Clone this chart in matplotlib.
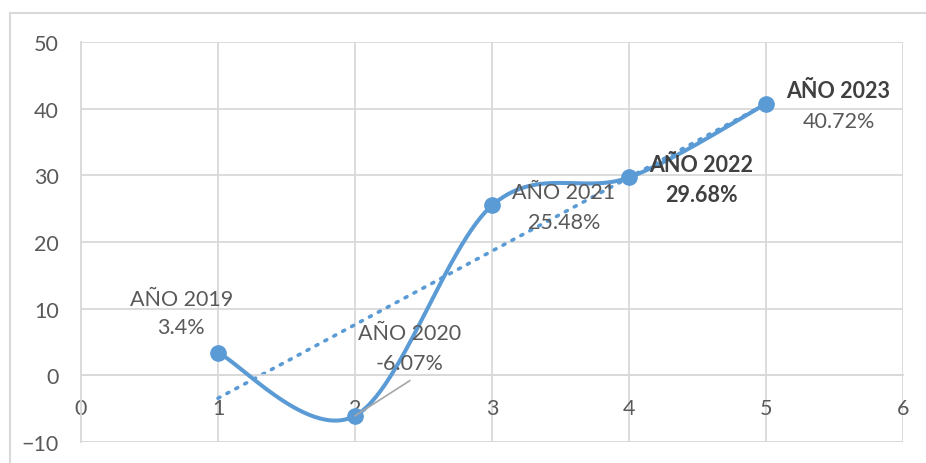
import numpy as np
import matplotlib.pyplot as plt
from matplotlib.lines import Line2D

plt.rcParams['font.family'] = ['Lato', 'DejaVu Sans']

# datos
x_vals = [1, 2, 3, 4, 5]
y_vals = [3.4, -6.07, 25.48, 29.68, 40.72]
years = ["AÑO 2019", "AÑO 2020", "AÑO 2021", "AÑO 2022", "AÑO 2023"]
pct_labels = ["3.4%", "-6.07%", "25.48%", "29.68%", "40.72%"]

x_ticks = [0, 1, 2, 3, 4, 5, 6]
y_ticks = [-10, 0, 10, 20, 30, 40, 50]

line_color = "#5B9BD5"
grid_color = "#D9D9D9"
text_color = "#595959"
bold_color = "#404040"


def smooth_curve(xs, ys, n=60):
    # curva suavizada tipo Excel (Catmull-Rom en Bezier)
    p = np.column_stack([xs, ys]).astype(float)
    p_ext = np.vstack([p[0], p, p[-1]])
    out = []
    t = np.linspace(0, 1, n)[:, None]
    for i in range(1, len(p_ext) - 2):
        p0, p1, p2, p3 = p_ext[i - 1], p_ext[i], p_ext[i + 1], p_ext[i + 2]
        c1 = p1 + (p2 - p0) / 6
        c2 = p2 - (p3 - p1) / 6
        seg = ((1 - t) ** 3) * p1 + 3 * ((1 - t) ** 2) * t * c1 + 3 * (1 - t) * t ** 2 * c2 + t ** 3 * p2
        out.append(seg)
    out = np.vstack(out)
    return out[:, 0], out[:, 1]


fig = plt.figure(figsize=(9.26, 4.64), dpi=100)
ax = fig.add_axes([81 / 926, 1 - 443 / 464, (903 - 81) / 926, (443 - 43) / 464])

ax.set_xlim(0, 6)
ax.set_ylim(-10, 50)
ax.set_xticks(x_ticks)
ax.set_yticks(y_ticks)
ax.grid(True, color=grid_color, linewidth=1.3)
ax.set_axisbelow(True)

for s in ["top", "right"]:
    ax.spines[s].set_visible(False)
ax.spines["left"].set_color(grid_color)
ax.spines["left"].set_linewidth(1.3)
ax.spines["bottom"].set_position(("data", 0))
ax.spines["bottom"].set_color(grid_color)
ax.spines["bottom"].set_linewidth(1.3)

ax.tick_params(axis="both", length=0, labelsize=15.5, labelcolor=text_color)
ax.tick_params(axis="y", pad=16)
ax.tick_params(axis="x", pad=16)

# linea horizontal inferior
ax.axhline(-10, color=grid_color, linewidth=1.3, zorder=0)

# tendencia lineal
coef = np.polyfit(x_vals, y_vals, 1)
xt = np.array([x_vals[0], x_vals[-1]])
ax.plot(xt, np.polyval(coef, xt), color=line_color, linewidth=2.6,
        linestyle=(0, (0.6, 2.2)), dash_capstyle="round", zorder=2)

# serie suavizada
sx, sy = smooth_curve(x_vals, y_vals)
ax.plot(sx, sy, color=line_color, linewidth=2.9, zorder=3, solid_capstyle="round")
ax.plot(x_vals, y_vals, "o", color=line_color, markersize=11, zorder=4)

# linea guia etiqueta 2020
ax.plot([x_vals[1], 2.4], [y_vals[1], -0.8], color="#A6A6A6", linewidth=1.2, zorder=5)

# etiquetas
lab_pos = [(0.733, 11.4, 7.2), (2.40, 6.4, 1.9), (3.525, 27.5, 23.0),
           (4.53, 31.7, 27.2), (5.53, 42.7, 38.2)]
for i, (lx, ly1, ly2) in enumerate(lab_pos):
    bold_year = i >= 3
    bold_pct = i == 3
    ax.text(lx, ly1, years[i], ha="center", va="center", fontsize=15.5,
            color=bold_color if bold_year else text_color,
            fontweight="bold" if bold_year else "normal", zorder=6)
    ax.text(lx, ly2, pct_labels[i], ha="center", va="center", fontsize=15.5,
            color=bold_color if bold_pct else text_color,
            fontweight="bold" if bold_pct else "normal", zorder=6)

# borde del grafico
fig.add_artist(Line2D([10 / 926, 10 / 926], [0, 1 - 14 / 464], color=grid_color, linewidth=1.5))
fig.add_artist(Line2D([10 / 926, 1], [1 - 14 / 464, 1 - 14 / 464], color=grid_color, linewidth=1.5))

fig.savefig("out.png", dpi=100)
